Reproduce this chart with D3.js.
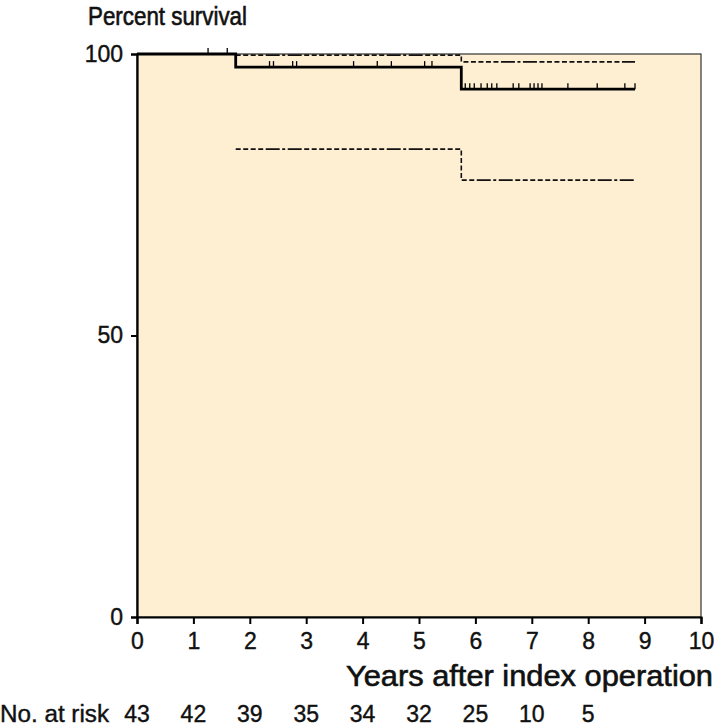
<!DOCTYPE html>
<html>
<head>
<meta charset="utf-8">
<script src="https://cdn.jsdelivr.net/npm/d3@7"></script>
<style>
  html, body { margin: 0; padding: 0; background: #fff; }
  svg { display: block; }
</style>
</head>
<body>
<svg id="chart" width="714" height="727"></svg>
<script>
// ---- data ----
const xTicks = [0, 1, 2, 3, 4, 5, 6, 7, 8, 9, 10];
const yTicks = [0, 50, 100];
const kmTimes = [0, 1.75, 5.75, 8.83];
const kmSurvival = [100, 97.67, 93.76, 93.76];
const upperTimes = [1.75, 5.75, 8.83];
const upperCI = [99.8, 98.6, 98.6];
const lowerTimes = [1.75, 5.75, 8.83];
const lowerCI = [83.1, 77.6, 77.6];
const censorTimes = [1.26, 1.60, 2.35, 2.42, 2.76, 2.83, 3.84, 4.26, 4.51, 5.10, 5.23,
  5.82, 5.90, 5.98, 6.10, 6.21, 6.29, 6.38, 6.67, 6.77, 6.97, 7.04, 7.11, 7.18,
  7.64, 8.16, 8.65, 8.83];
const riskYears = [0, 1, 2, 3, 4, 5, 6, 7, 8];
const riskCounts = [43, 42, 39, 35, 34, 32, 25, 10, 5];

// ---- layout ----
const FONT = "Liberation Sans, Arial, Helvetica, sans-serif";
const svg = d3.select("#chart");
const x = d3.scaleLinear().domain([0, 10]).range([137, 701]);
const y = d3.scaleLinear().domain([0, 100]).range([617, 54]);

function heavy(sel, w) {
  return sel.attr("fill", "#111").attr("stroke", "#111").attr("stroke-width", w).attr("font-family", FONT);
}

// plot background + frame
svg.append("rect")
  .attr("x", x(0)).attr("y", y(100))
  .attr("width", x(10) - x(0)).attr("height", y(0) - y(100))
  .attr("fill", "#feefd3")
  .attr("stroke", "#333").attr("stroke-width", 1.2);

// axes
const yAxis = d3.axisLeft(y).tickValues(yTicks).tickSize(6).tickPadding(8).tickFormat(d3.format("d"));
const gy = svg.append("g").attr("transform", `translate(${x(0)},0)`).call(yAxis);
gy.select(".domain").attr("stroke", "#000").attr("stroke-width", 2.2);
gy.selectAll(".tick line").attr("stroke", "#000").attr("stroke-width", 2);
heavy(gy.selectAll(".tick text").attr("font-size", 23), 0.4);

const xAxis = d3.axisBottom(x).tickValues(xTicks).tickSize(7).tickPadding(9).tickFormat(d3.format("d"));
const gx = svg.append("g").attr("transform", `translate(0,${y(0)})`).call(xAxis);
gx.select(".domain").attr("stroke", "#000").attr("stroke-width", 2.2);
gx.selectAll(".tick line").attr("stroke", "#000").attr("stroke-width", 2);
heavy(gx.selectAll(".tick text").attr("font-size", 23), 0.4);

// step line generator
const step = d3.line().x(d => x(d[0])).y(d => y(d[1])).curve(d3.curveStepAfter);
const ciDash = "5,2.5,5,2.5,5,2.5,5,2.5,14,2.5,3,2.5,14,2.5,5,2.5,5,2.5,5,2.5,5,2.5,5,2.5,5,2.5,5,2.5";

// confidence limits
svg.append("path")
  .datum(upperTimes.map((t, i) => [t, upperCI[i]]))
  .attr("d", step).attr("fill", "none")
  .attr("stroke", "#111").attr("stroke-width", 1.6)
  .attr("stroke-dasharray", ciDash);
svg.append("path")
  .datum(lowerTimes.map((t, i) => [t, lowerCI[i]]))
  .attr("d", step).attr("fill", "none")
  .attr("stroke", "#111").attr("stroke-width", 1.6)
  .attr("stroke-dasharray", ciDash);

// KM curve
svg.append("path")
  .datum(kmTimes.map((t, i) => [t, kmSurvival[i]]))
  .attr("d", step).attr("fill", "none")
  .attr("stroke", "#000").attr("stroke-width", 2.8);

// censor marks
function survAt(t) {
  let s = kmSurvival[0];
  for (let i = 0; i < kmTimes.length; i++) if (kmTimes[i] <= t) s = kmSurvival[i];
  return s;
}
svg.append("g").selectAll("line").data(censorTimes).join("line")
  .attr("x1", d => x(d)).attr("x2", d => x(d))
  .attr("y1", d => y(survAt(d))).attr("y2", d => y(survAt(d)) - 6)
  .attr("stroke", "#000").attr("stroke-width", 1.3);

// titles
heavy(svg.append("text").attr("x", 88).attr("y", 25), 0.6)
  .attr("font-size", 25).attr("textLength", 159).attr("lengthAdjust", "spacingAndGlyphs")
  .text("Percent survival");
heavy(svg.append("text").attr("x", 346).attr("y", 686), 0.6)
  .attr("font-size", 29).attr("textLength", 367).attr("lengthAdjust", "spacingAndGlyphs")
  .text("Years after index operation");

// number at risk
heavy(svg.append("text").attr("x", 0).attr("y", 722), 0.4)
  .attr("font-size", 23).attr("textLength", 109).attr("lengthAdjust", "spacingAndGlyphs")
  .text("No. at risk");
heavy(svg.append("g").selectAll("text").data(riskYears).join("text")
  .attr("x", d => x(d)).attr("y", 722).attr("text-anchor", "middle"), 0.4)
  .attr("font-size", 23).text((d, i) => riskCounts[i]);
</script>
</body>
</html>
